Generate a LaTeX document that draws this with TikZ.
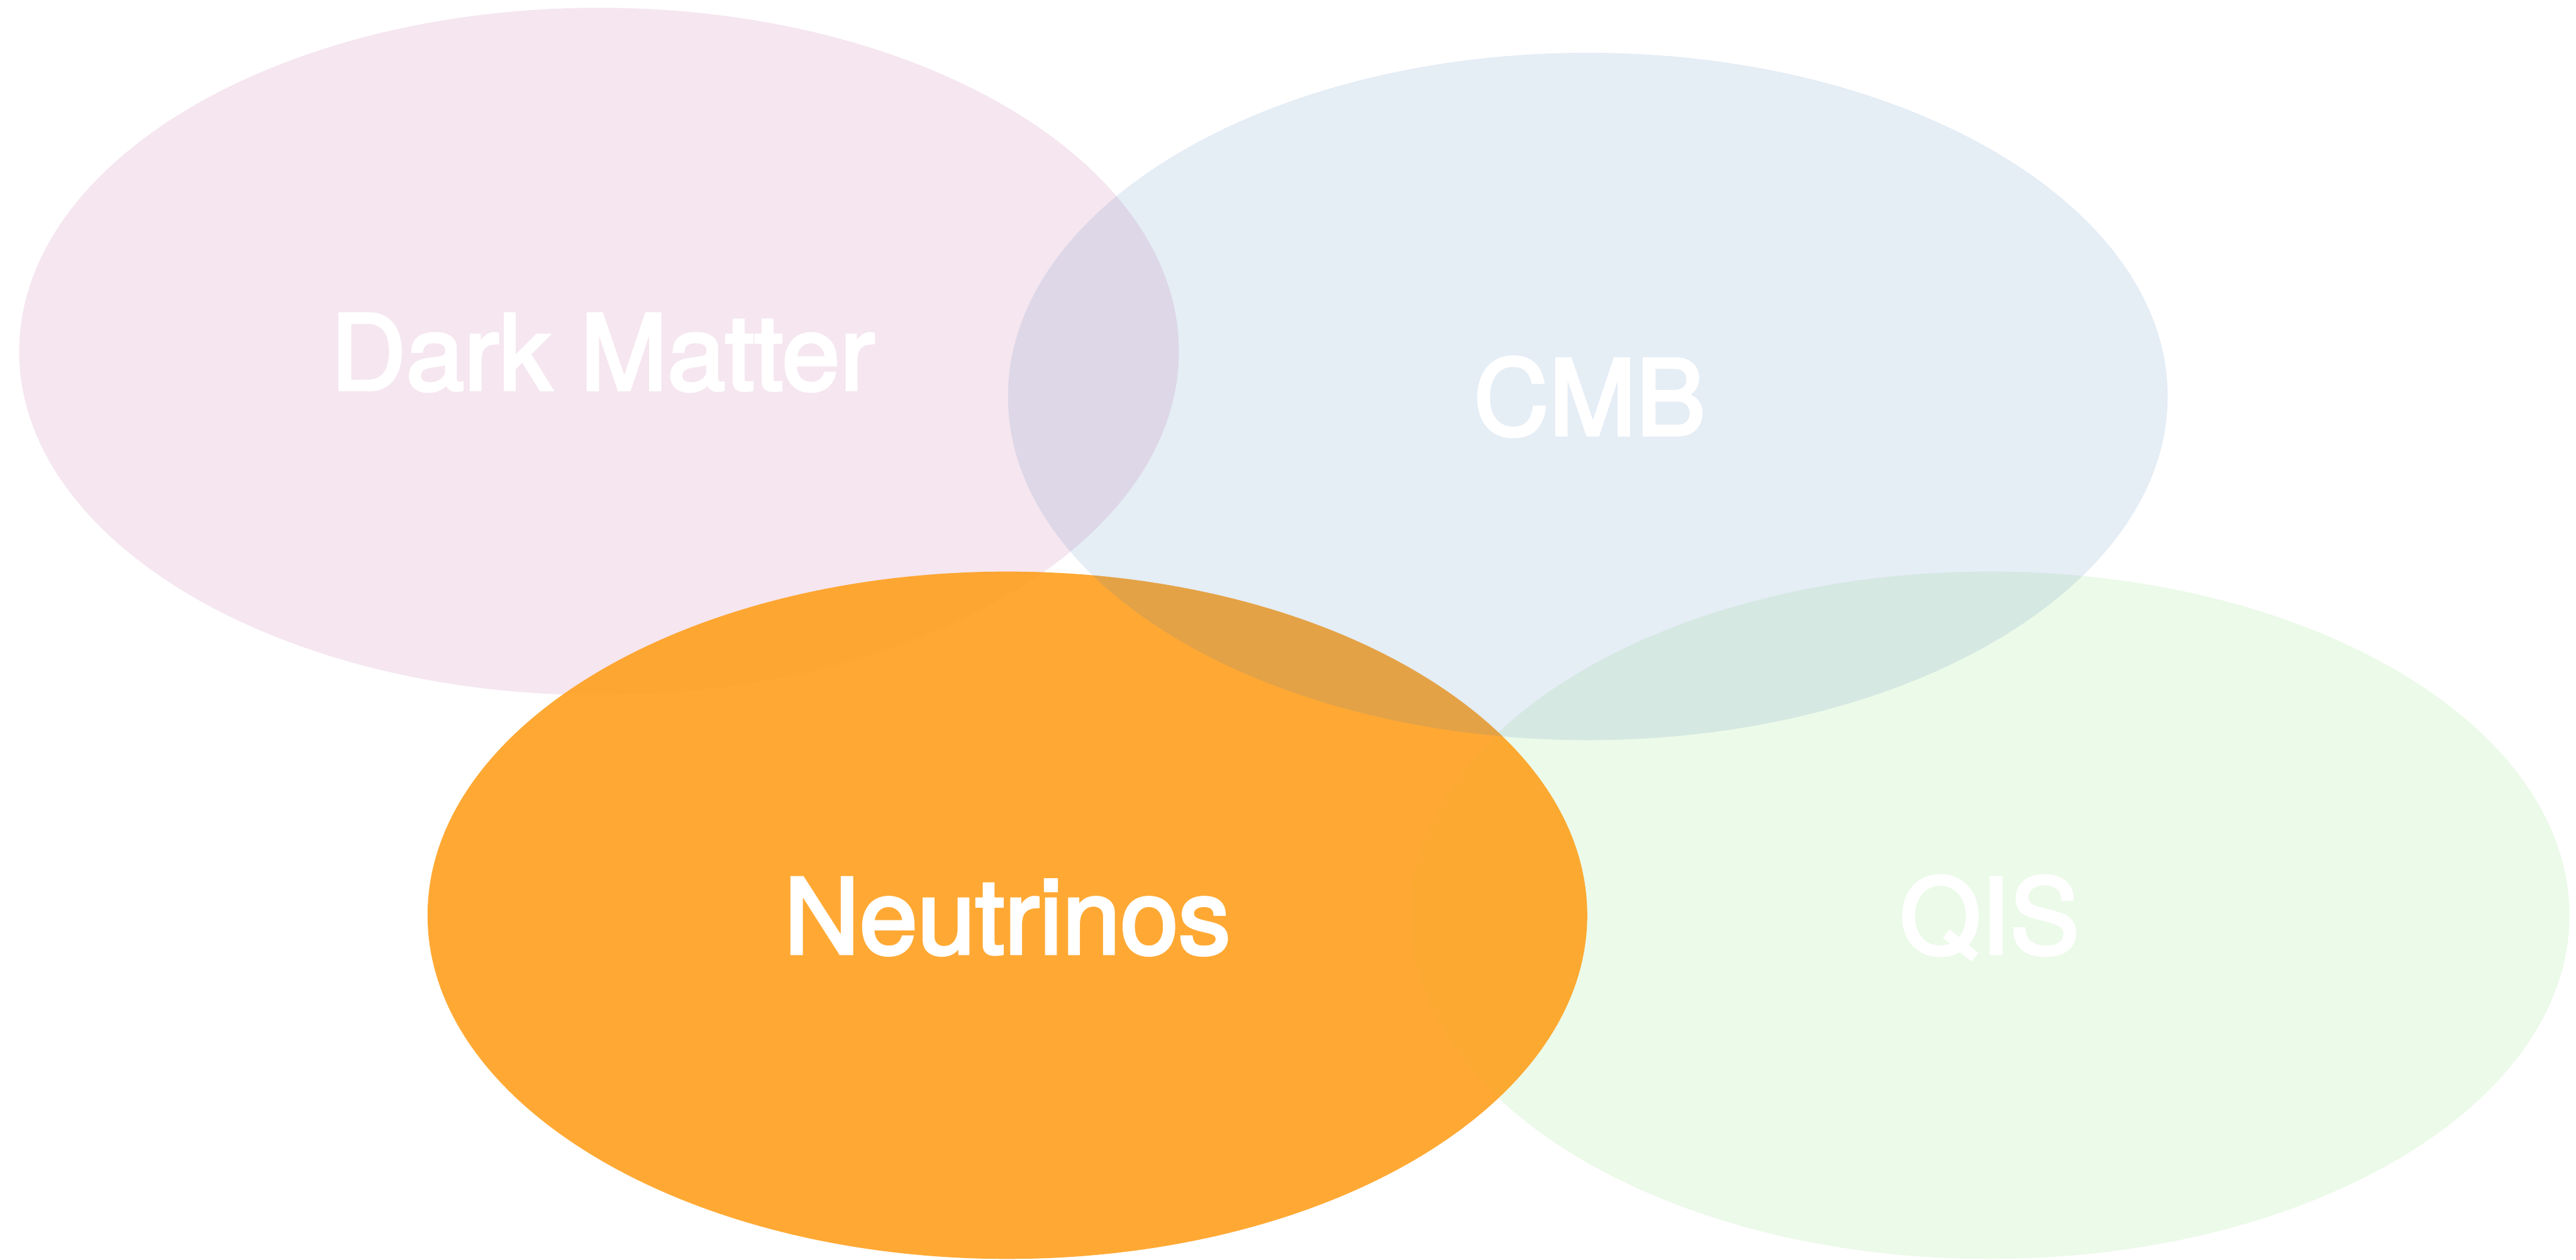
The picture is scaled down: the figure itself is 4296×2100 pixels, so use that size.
\documentclass[tikz,border=0pt]{standalone}
\usepackage{fontspec}
\setmainfont{TeX Gyre Heros}
\newfontfamily\labelfont{TeX Gyre Heros}[UprightFeatures={FakeBold=3}]
\definecolor{dmcol}{RGB}{180,60,130}
\definecolor{qiscol}{RGB}{130,220,110}
\definecolor{nucol}{RGB}{255,160,30}
\definecolor{cmbcol}{RGB}{70,125,185}
\begin{document}
\begin{tikzpicture}[x=0.1pt, y=0.1pt,
  field/.style={x radius=967, y radius=573},
  fieldname/.style={anchor=base, inner sep=0pt, text=white, font=\labelfont\fontsize{17.4}{20}\selectfont}]
\useasboundingbox (0, 0) rectangle (4296, 2100);
%Fields
\fill [dmcol, fill opacity=0.13] (999, 1514) ellipse [field];
\fill [qiscol, fill opacity=0.15] (3318, 574) ellipse [field];
\fill [nucol, fill opacity=0.9] (1680, 574) ellipse [field];
\fill [cmbcol, fill opacity=0.14] (2648, 1439) ellipse [field];
%Text
\node [fieldname] (dm) at (1005, 1450) {Dark Matter};
\node [fieldname] (cmb) at (2651, 1375) {CMB};
\node [fieldname] (nu) at (1680, 510) {Neutrinos};
\node [fieldname] (qis) at (3318, 510) {QIS};
\end{tikzpicture}
\end{document}
